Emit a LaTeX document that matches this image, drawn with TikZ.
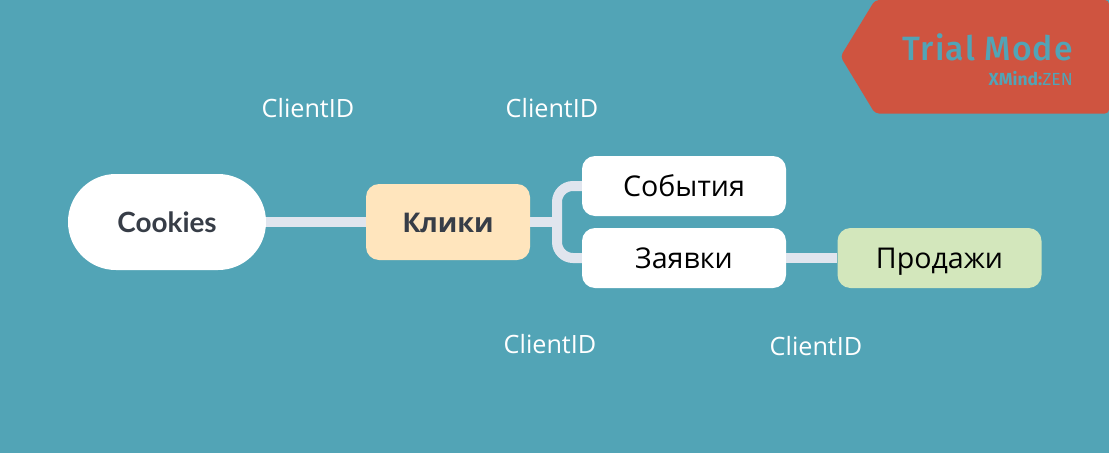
\documentclass[tikz,border=0pt]{standalone}
\usepackage{fontspec}
\setmainfont{Open Sans}
\newfontfamily\latof{Lato}
\newfontfamily\firaf{Fira Sans}
\newfontfamily\firam{Fira Sans Medium}
\definecolor{bgc}{HTML}{52A4B6}
\definecolor{badge}{HTML}{CF5440}
\definecolor{line}{HTML}{E0E5EE}
\definecolor{klik}{HTML}{FFE5BD}
\definecolor{prod}{HTML}{D3E7BC}
\definecolor{ink}{HTML}{373D47}
\tikzset{
  x=1pt,y=-1pt,
  box/.style={rounded corners=13pt,minimum width=204pt,minimum height=60pt,inner sep=0pt,fill=white,text=black,text height=21pt,text depth=0pt,font=\fontsize{28.6}{32}\selectfont},
  lbl/.style={text=white,inner sep=0pt,font=\fontsize{25.2}{30}\selectfont},
  conn/.style={draw=line,line width=10pt},
}
\begin{document}
\begin{tikzpicture}
\useasboundingbox (0,0) rectangle (1109,453);
\fill[bgc] (0,0) rectangle (1109,453);
\fill[badge,rounded corners=4pt] (840.5,56.5) -- (875,0) -- (1109,0) -- (1109,113.5) -- (875,113.5) -- cycle;
\node[anchor=east,inner sep=0pt,text=bgc,font=\firam\fontsize{33.7}{36}\selectfont\addfontfeature{LetterSpace=3.5}] (trial) at (1073,47.5) {Trial Mode};
\node[anchor=east,inner sep=0pt,text=bgc,font=\firaf\fontsize{17.5}{20}\selectfont] (xm) at (1073,79) {\textbf{XMind:}ZEN};
\node[fill=white,rounded corners=47.9pt,minimum width=198pt,minimum height=96pt,inner sep=0pt,text=ink,font=\latof\bfseries\fontsize{27.9}{32}\selectfont] (c) at (167,222) {Cookies};
\node[box,fill=klik,rounded corners=13pt,minimum width=164pt,minimum height=76pt,text=ink,font=\bfseries\fontsize{27.1}{32}\selectfont] (k) at (448,222) {Клики};
\node[box] (s) at (684,186) {События};
\node[box] (z) at (684,258) {Заявки};
\node[box,fill=prod] (p) at (939.5,258) {Продажи};
\coordinate (j) at (557,222);
\draw[conn] (c.east) -- (k.west);
\draw[conn] (k.east) -- (j);
\draw[conn,rounded corners=16pt] (s.west) -| (j) |- (z.west);
\draw[conn] (z.east) -- (p.west);
\node[lbl] (l1) at (308,108) {ClientID};
\node[lbl] (l2) at (552,108) {ClientID};
\node[lbl] (l3) at (550,344) {ClientID};
\node[lbl] (l4) at (816,346.500) {ClientID};
\end{tikzpicture}
\end{document}
